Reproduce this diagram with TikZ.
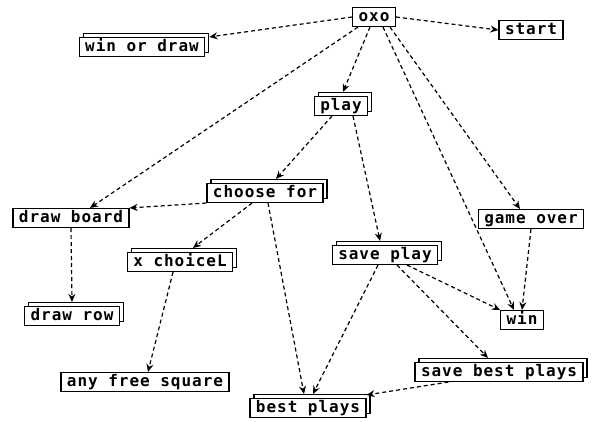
\documentclass[tikz,border=0pt]{standalone}
\usepackage{fontspec}
\newfontfamily\pixfont[LetterSpace=6]{DejaVu Sans Mono}
\usetikzlibrary{arrows.meta, shadows}

\begin{document}
\begin{tikzpicture}[x=1pt, y=1pt,
    box/.style={draw, line width=1.1pt, fill=white, inner xsep=6pt, inner ysep=0pt,
      minimum height=19pt, text height=11.5pt, text depth=3.5pt,
      font=\pixfont\bfseries\fontsize{16}{16}\selectfont},
    stack/.style={box, copy shadow={shadow xshift=4pt, shadow yshift=4pt}},
    link/.style={dash pattern=on 4pt off 3pt, line width=1.2pt,
      -{Stealth[length=8pt, width=7pt]}}]
  \useasboundingbox (0,0) rectangle (594,-421);

  % single boxes
  \foreach \n/\x/\y/\t in {oxo/374/17/oxo, start/531/30/start,
      drawboard/71/218/draw board, gameover/531/219/game over,
      anyfree/145/382/any free square, win/522/320/win}{
    \node[box] (\n) at (\x,-\y) {\t};
  }
  % stacked boxes
  \foreach \n/\x/\y/\t in {winordraw/142/47/win or draw, play/341/106/play,
      choosefor/265/193/choose for, xchoice/180/262/x choiceL,
      saveplay/385/255/save play, drawrow/72/316/draw row,
      savebest/499/372/save best plays, bestplays/308/408/best plays}{
    \node[stack] (\n) at (\x,-\y) {\t};
  }

  % calls from oxo
  \draw[link] (oxo.east) -- (start.west);
  \draw[link] (oxo.west) -- ([xshift=4pt]winordraw.north east);
  \draw[link] ([xshift=-16pt]oxo.south) -- ([xshift=19pt]drawboard.north);
  \draw[link] ([xshift=-4pt]oxo.south) -- ([xshift=2pt,yshift=4pt]play.north);
  \draw[link] ([xshift=9pt]oxo.south) -- ([xshift=-8pt]win.north);
  \draw[link] ([xshift=16pt]oxo.south) -- ([xshift=-11pt]gameover.north);

  % calls from play
  \draw[link] ([xshift=-9pt]play.south) -- ([xshift=11pt,yshift=4pt]choosefor.north);
  \draw[link] ([xshift=12pt]play.south) -- ([xshift=-5pt,yshift=4pt]saveplay.north);

  % calls from choose for
  \draw[link] (choosefor.south west) -- (drawboard.north east);
  \draw[link] ([xshift=-13pt]choosefor.south) -- ([xshift=13pt,yshift=4pt]xchoice.north);
  \draw[link] ([xshift=3pt]choosefor.south) -- ([xshift=-4pt,yshift=4pt]bestplays.north);
  \draw[link] (drawboard.south) -- ([yshift=4pt]drawrow.north);
  \draw[link] ([xshift=-7pt]xchoice.south) -- ([xshift=3pt]anyfree.north);

  % calls from save play
  \draw[link] ([xshift=-7pt]saveplay.south) -- ([xshift=5pt,yshift=4pt]bestplays.north);
  \draw[link] ([xshift=12pt]saveplay.south) -- ([xshift=-11pt,yshift=4pt]savebest.north);
  \draw[link] ([xshift=22pt]saveplay.south) -- (win.north west);
  \draw[link] (gameover.south) -- (win.north);
  \draw[link] ([xshift=34pt]savebest.south west) -- ([yshift=3pt]bestplays.north east);
\end{tikzpicture}
\end{document}
